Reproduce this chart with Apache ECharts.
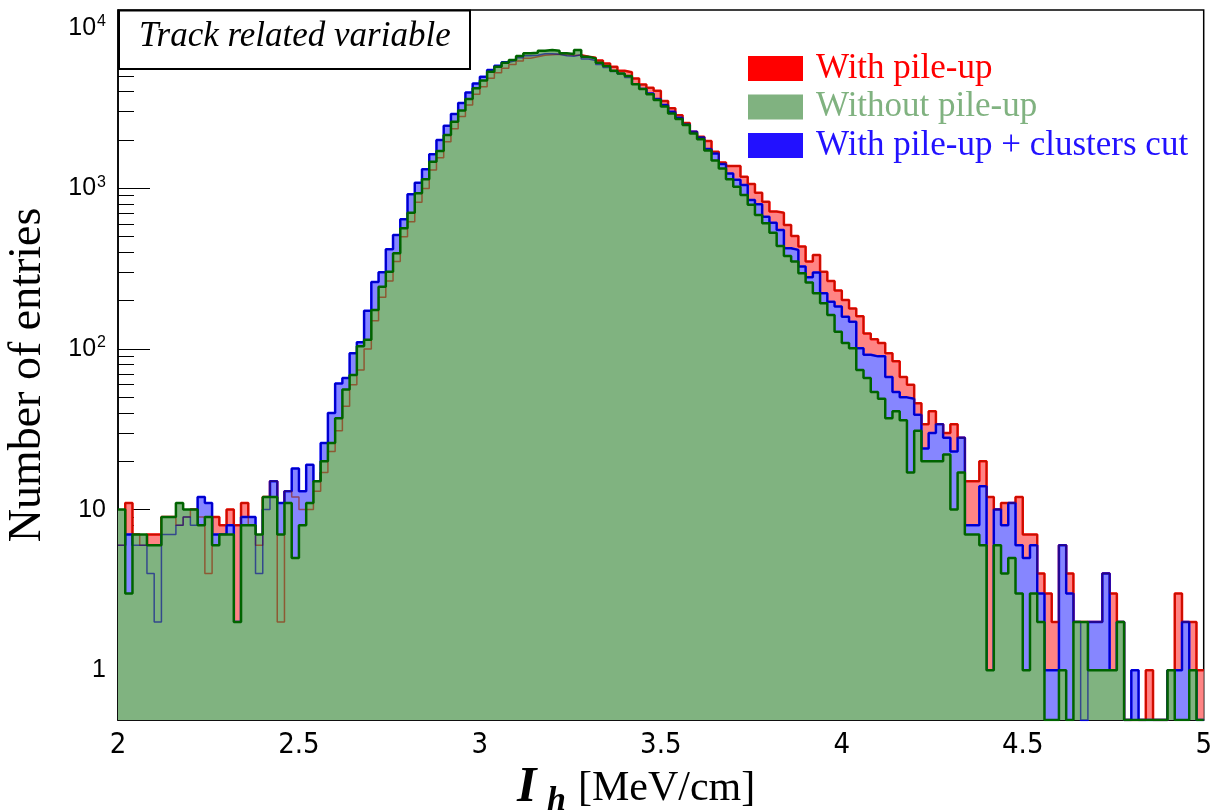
<!DOCTYPE html>
<html><head><meta charset="utf-8">
<script src="https://cdn.jsdelivr.net/npm/echarts@6/dist/echarts.min.js"></script>
<style>html,body{margin:0;padding:0;background:#fff}#c{width:1215px;height:810px}</style>
</head><body><div id="c"></div>
<script>
// ---- data (150 bins from 2.00 to 5.00, width 0.02) ----
const X_MIN = 2, X_MAX = 5, BIN_WIDTH = 0.02;
const Y_MIN = 0.49, Y_MAX = 12900;
const xTickLabels = [2, 2.5, 3, 3.5, 4, 4.5, 5];
const yTickLabels = [1, 10, 100, 1000, 10000];

const withPileUp = [
  6, 11, 7, 6, 7, 7, 9, 9, 8, 9,
  10, 9, 4, 9, 8, 10, 8, 11, 8, 6,
  12, 15, 2, 13, 12, 10, 10, 13, 17, 23,
  31, 44, 60, 74, 100, 150, 210, 265, 350, 500,
  620, 820, 1000, 1300, 1550, 1950, 2350, 2800, 3300, 3850,
  4300, 4850, 5250, 5600, 5900, 6200, 6450, 6600, 6750, 6800,
  6850, 6800, 6750, 6750, 6600, 6500, 6250, 6000, 5720, 5400,
  5280, 4840, 4440, 4230, 4060, 3500, 3150, 2850, 2550, 2250,
  2100, 1970, 1690, 1450, 1380, 1380, 1180, 1065, 940, 827,
  717, 706, 592, 506, 434, 350, 385, 303, 265, 231,
  202, 179, 160, 125, 115, 109, 94, 84, 67, 60,
  46, 34, 41, 34, 30, 34, 28, 15, 15, 20,
  12, 10, 11, 11, 12, 7, 7, 4, 3, 2,
  6, 4, 2, 2, 2, 2, 4, 3, 2, 0,
  0, 0, 1, 0, 0, 1, 3, 2, 2, 1
];
const withoutPileUp = [
  10, 3, 7, 7, 6, 6, 9, 9, 11, 10,
  10, 8, 9, 6, 7, 7, 2, 8, 8, 7,
  12, 12, 7, 11, 5, 8, 11, 15, 20, 26,
  37, 56, 69, 104, 114, 175, 244, 303, 395, 565,
  706, 932, 1138, 1466, 1710, 2150, 2600, 3050, 3600, 4200,
  4700, 5325, 5720, 6058, 6297, 6670, 6930, 6985, 7190, 7260,
  7190, 6930, 6860, 7260, 6600, 6450, 6060, 5780, 5400, 5200,
  5000, 4450, 4150, 3850, 3550, 3230, 2930, 2700, 2480, 2200,
  2020, 1720, 1490, 1330, 1140, 1025, 910, 790, 683, 606,
  530, 438, 380, 350, 296, 259, 222, 193, 163, 128,
  109, 101, 74, 66, 54, 49, 37, 41, 36, 17,
  31, 20, 20, 20, 22, 10, 17, 7, 7, 6,
  1, 6, 4, 5, 3, 1, 3, 2, 0, 0,
  1, 0, 2, 2, 1, 1, 1, 1, 2, 0,
  0, 0, 0, 0, 0, 1, 0, 0, 1, 0
];
const withClustersCut = [
  6, 7, 6, 6, 4, 2, 7, 7, 8, 9,
  8, 12, 11, 7, 7, 8, 2, 9, 9, 4,
  10, 15, 11, 13, 18, 13, 19, 15, 26, 40,
  61, 66, 94, 110, 173, 261, 301, 418, 513, 643,
  919, 1085, 1314, 1630, 2000, 2450, 2900, 3400, 3950, 4500,
  4950, 5450, 5800, 6100, 6250, 6500, 6700, 6750, 6900, 6900,
  6850, 6700, 6650, 6800, 6400, 6250, 5900, 5650, 5350, 5150,
  4900, 4450, 4150, 3900, 3600, 3300, 3000, 2750, 2500, 2250,
  2080, 1760, 1650, 1420, 1240, 1130, 1050, 847, 796, 667,
  612, 551, 424, 414, 326, 280, 299, 222, 197, 184,
  159, 148, 101, 92, 90, 90, 67, 54, 50, 49,
  39, 24, 30, 34, 28, 23, 28, 8, 8, 14,
  1, 10, 8, 11, 6, 5, 6, 3, 1, 1,
  6, 3, 2, 0, 2, 2, 4, 1, 2, 0,
  1, 0, 0, 0, 0, 1, 1, 2, 1, 0
];
const names = ['With pile-up', 'Without pile-up', 'With pile-up + clusters cut'];

// ---- build step data (empty bins drawn at the frame bottom, like ROOT) ----
function steps(arr) {
  const pts = arr.map((v, i) => [+(X_MIN + i * BIN_WIDTH).toFixed(4), v > 0 ? v : Y_MIN]);
  const last = arr[arr.length - 1];
  pts.push([X_MAX, last > 0 ? last : Y_MIN]);
  return pts;
}
const minorY = [];
[0.1, 1, 10, 100, 1000].forEach(d => { for (let k = 2; k <= 9; k++) { const v = +(k * d).toFixed(4); if (v >= Y_MIN && v <= Y_MAX) minorY.push(v); } });

const serifFont = '"Liberation Serif", "DejaVu Serif", serif';
const sansFont = '"Liberation Sans", Arial, sans-serif';
const narrowFont = '"DejaVu Sans Condensed", "Liberation Sans", sans-serif';

function yFmt(v) {
  const l = Math.log10(v), r = Math.round(l);
  if (Math.abs(l - r) > 1e-6) return '';
  if (r === 0) return '{b|1}';
  if (r === 1) return '{b|10}';
  return '{b|10}{s|' + r + '}';
}

const chart = echarts.init(document.getElementById('c'), null, { renderer: 'canvas' });
const base = { type: 'line', step: 'end', symbol: 'none', showSymbol: false, animation: false, silent: true, xAxisIndex: 0, yAxisIndex: 0 };

chart.setOption({
  animation: false,
  backgroundColor: '#ffffff',
  grid: { left: 118, right: 8, top: 10, bottom: 90, show: true, borderColor: '#000', borderWidth: 1.5, backgroundColor: 'transparent', containLabel: false },
  xAxis: {
    type: 'value', min: X_MIN, max: X_MAX, interval: 0.5,
    axisLine: { show: true, onZero: false, lineStyle: { color: '#000', width: 1.5 } },
    axisTick: { show: true, inside: true, length: 20, lineStyle: { color: '#000', width: 1 } },
    minorTick: { show: true, splitNumber: 5, length: 10, lineStyle: { color: '#000', width: 1 } },
    splitLine: { show: false }, minorSplitLine: { show: false },
    axisLabel: { show: true, margin: 11, color: '#000', fontFamily: narrowFont, fontSize: 29,
      customValues: xTickLabels, formatter: v => String(+v.toFixed(2)) }
  },
  yAxis: [{
    type: 'log', logBase: 10, min: Y_MIN, max: Y_MAX,
    axisLine: { show: true, lineStyle: { color: '#000', width: 1.5 } },
    axisTick: { show: true, inside: true, length: 32, customValues: yTickLabels, lineStyle: { color: '#000', width: 1 } },
    splitLine: { show: false },
    axisLabel: { show: true, margin: 12, color: '#000', customValues: yTickLabels, formatter: yFmt,
      rich: { b: { fontFamily: sansFont, fontSize: 25, color: '#000' },
              s: { fontFamily: sansFont, fontSize: 16, color: '#000', verticalAlign: 'top', padding: [0, 0, 12, 1] } } }
  }, {
    type: 'log', logBase: 10, min: Y_MIN, max: Y_MAX, position: 'left',
    axisLine: { show: false },
    axisTick: { show: true, inside: true, length: 16, customValues: minorY, lineStyle: { color: '#000', width: 1 } },
    axisLabel: { show: false }, splitLine: { show: false }
  }],
  legend: {
    show: true, orient: 'vertical', left: 748, top: 51, padding: 0, itemWidth: 55, itemHeight: 25, itemGap: 3.5,
    icon: 'rect', selectedMode: false,
    textStyle: { fontFamily: serifFont, fontSize: 35, padding: [0, 0, 0, 8] },
    itemStyle: { borderWidth: 0 }, lineStyle: { width: 0 },
    data: [
      { name: names[0], itemStyle: { color: '#ff0000' }, textStyle: { color: '#ff0000' } },
      { name: names[1], itemStyle: { color: '#80b280' }, textStyle: { color: '#80b280' } },
      { name: names[2], itemStyle: { color: '#2211ff' }, textStyle: { color: '#2211ff' } }
    ]
  },
  series: [
    Object.assign({}, base, { name: names[0], z: 2, data: steps(withPileUp),
      itemStyle: { color: '#ff0000' }, lineStyle: { color: '#ff0000', width: 2.5 },
      areaStyle: { color: 'rgb(255,132,132)', opacity: 1, origin: 'start' } }),
    Object.assign({}, base, { name: names[2], z: 3, data: steps(withClustersCut),
      itemStyle: { color: '#2211ff' }, lineStyle: { color: '#0000ff', width: 2.5 },
      areaStyle: { color: 'rgb(134,134,255)', opacity: 1, origin: 'start' } }),
    Object.assign({}, base, { name: names[1], z: 4, data: steps(withoutPileUp),
      itemStyle: { color: '#80b280' }, lineStyle: { width: 0, opacity: 0 },
      areaStyle: { color: 'rgb(128,179,128)', opacity: 1, origin: 'start' } }),
    Object.assign({}, base, { name: 'redUnder', z: 5, data: steps(withPileUp),
      lineStyle: { color: 'rgba(150,30,0,0.6)', width: 1.5 } }),
    Object.assign({}, base, { name: 'blueUnder', z: 5, data: steps(withClustersCut),
      lineStyle: { color: 'rgba(0,0,150,0.6)', width: 1.5 } }),
    Object.assign({}, base, { name: 'greenLine', z: 6, data: steps(withoutPileUp),
      lineStyle: { color: '#006400', width: 2.5 } })
  ],
  graphic: [
    { type: 'rect', z: 100, shape: { x: 119, y: 10.5, width: 351, height: 58.5 },
      style: { fill: '#fff', stroke: '#000', lineWidth: 2 } },
    { type: 'text', z: 101, left: 139, top: 19,
      style: { text: 'Track related variable', font: 'italic 35px ' + serifFont, fill: '#000' } },
    { type: 'text', z: 101, x: 28, y: 375, rotation: Math.PI / 2,
      style: { text: 'Number of entries', font: '46px ' + serifFont, fill: '#000', align: 'center', verticalAlign: 'middle' } },
    { type: 'text', z: 101, x: 517, y: 788,
      style: { text: 'I', font: 'italic bold 50px ' + serifFont, fill: '#000', verticalAlign: 'middle' } },
    { type: 'text', z: 101, x: 547, y: 801,
      style: { text: 'h', font: 'italic bold 34px ' + serifFont, fill: '#000', verticalAlign: 'middle' } },
    { type: 'text', z: 101, x: 578, y: 789,
      style: { text: '[MeV/cm]', font: '42px ' + serifFont, fill: '#000', verticalAlign: 'middle' } }
  ]
});
</script></body></html>
